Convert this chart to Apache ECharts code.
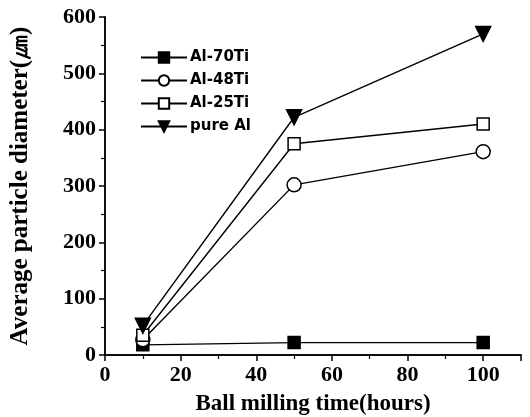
<!DOCTYPE html>
<html>
<head>
<meta charset="utf-8">
<script src="https://cdn.jsdelivr.net/npm/echarts@6/dist/echarts.min.js"></script>
<style>
  html, body { margin: 0; padding: 0; background: #fff; }
  #chart { width: 530px; height: 417px; }
</style>
</head>
<body>
<div id="chart"></div>
<script>
// ball milling time (hours)
const hours = [10, 50, 100]
// average particle diameter (um) per alloy
const al70Ti = [18, 22, 22]
const al48Ti = [27, 302, 361]
const al25Ti = [35, 375, 410]
const pureAl = [52, 422, 570]
const seriesNames = ['Al-70Ti', 'Al-48Ti', 'Al-25Ti', 'pure Al']

const pairs = (ys) => hours.map((h, i) => [h, ys[i]])

let myChart = echarts.init(document.getElementById('chart'))

const serifBold = { fontFamily: 'Liberation Serif', fontWeight: 'bold', color: '#000' }

const mkSeries = (name, ys, symbol, size, filled, rotate) => ({
  name: name,
  type: 'line',
  data: pairs(ys),
  symbol: symbol,
  symbolSize: size,
  symbolRotate: rotate || 0,
  lineStyle: { color: '#000', width: 1.4 },
  itemStyle: { color: filled ? '#000' : '#fff', borderColor: '#000', borderWidth: 1.5 },
  emphasis: { disabled: true },
})

const sideAxis = (pos, max, interval) => ({
  type: 'value',
  position: pos,
  min: 0,
  max: max,
  interval: interval,
  axisLine: { show: true, lineStyle: { color: '#000', width: 1.5 } },
  axisTick: { show: false },
  axisLabel: { show: false },
  splitLine: { show: false },
})

let option = {
  animation: false,
  backgroundColor: '#fff',
  // fixed plot box, don't let labels push it around
  grid: { left: 105, right: 9, top: 17, bottom: 62, outerBoundsMode: 'none' },
  legend: {
    data: seriesNames,
    orient: 'vertical',
    left: 135,
    top: 45,
    itemGap: 8,
    itemWidth: 46,
    itemHeight: 13,
    textStyle: { fontFamily: 'DejaVu Sans', fontWeight: 'bold', fontSize: 15, color: '#000', padding: [0, 0, 0, -2] },
  },
  xAxis: [
    {
      type: 'value',
      min: 0,
      max: 110,
      interval: 20,
      name: 'Ball milling time(hours)',
      nameLocation: 'middle',
      nameGap: 38,
      nameTextStyle: { ...serifBold, fontSize: 23 },
      axisLine: { lineStyle: { color: '#000', width: 1.5 } },
      axisTick: { show: true, inside: false, length: 6, lineStyle: { color: '#000', width: 1.5 } },
      minorTick: { show: true, splitNumber: 2, length: 4, lineStyle: { color: '#000', width: 1.2 } },
      axisLabel: { ...serifBold, fontSize: 22, margin: 9, showMaxLabel: false },
      splitLine: { show: false },
    },
    sideAxis('top', 110, 20),
  ],
  yAxis: [
    {
      type: 'value',
      min: 0,
      max: 600,
      interval: 100,
      name: 'Average particle diameter(\u339B)',
      nameLocation: 'middle',
      nameGap: 72,
      nameTextStyle: { ...serifBold, fontSize: 25 },
      axisLine: { lineStyle: { color: '#000', width: 1.5 } },
      axisTick: { show: true, inside: false, length: 6, lineStyle: { color: '#000', width: 1.5 } },
      minorTick: { show: true, splitNumber: 2, length: 4, lineStyle: { color: '#000', width: 1.2 } },
      axisLabel: { ...serifBold, fontSize: 22, margin: 9 },
      splitLine: { show: false },
    },
    sideAxis('right', 600, 100),
  ],
  series: [
    mkSeries('Al-70Ti', al70Ti, 'rect', 12, true),
    mkSeries('Al-48Ti', al48Ti, 'circle', 14, false),
    mkSeries('Al-25Ti', al25Ti, 'rect', 12, false),
    mkSeries('pure Al', pureAl, 'triangle', 15, true, 180),
  ],
}

myChart.setOption(option)
</script>
</body>
</html>
